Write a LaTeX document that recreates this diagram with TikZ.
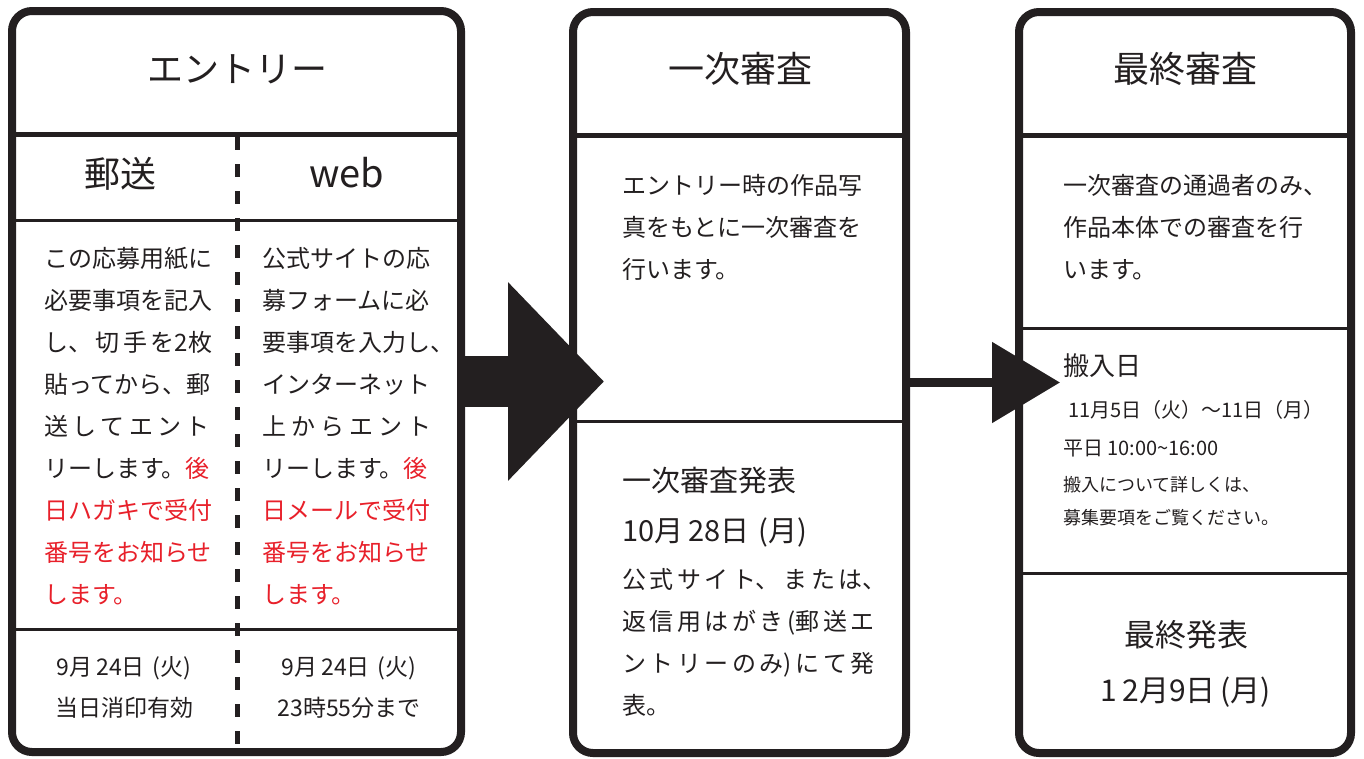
\documentclass[tikz,border=0pt]{standalone}
\usepackage{fontspec}
\setmainfont{Noto Sans CJK JP}
\usetikzlibrary{arrows.meta,calc}
\definecolor{ink}{HTML}{231F20}
\definecolor{jred}{HTML}{E8202A}
\newcommand{\fsz}[1]{\fontsize{#1}{#1}\selectfont}
\newcommand{\rd}[1]{\textcolor{jred}{#1}}
\newcommand{\jst}[2]{\makebox[#1][s]{#2}}
\begin{document}
\begin{tikzpicture}[x=1pt,y=-1pt,
  every node/.style={inner sep=0pt,outer sep=0pt,text=ink},
  panel/.style={draw=ink,line width=8pt,rounded corners=20pt,fill=white},
  thickrule/.style={draw=ink,line width=5pt},
  thinrule/.style={draw=ink,line width=3pt},
  dashrule/.style={draw=ink,line width=5pt,dash pattern=on 13pt off 14pt},
  body/.style={anchor=base west,font=\fsz{24}},
  head/.style={anchor=base,font=\fsz{36}},
  cell/.style={anchor=base,font=\fsz{23}},
  bigarrow/.style={draw=ink,line width=51pt,-{Triangle[length=96pt,width=193pt]}},
  smallarrow/.style={draw=ink,line width=9pt,-{Triangle[length=68pt,width=79pt]}}]
\useasboundingbox (0,0) rectangle (1364,758);
\fill[white] (0,0) rectangle (1364,758);

% panels
\node[panel,minimum width=449pt,minimum height=741pt] (b1) at (236.5,381.5) {};
\node[panel,minimum width=333pt,minimum height=741pt] (b2) at (739.5,382.5) {};
\node[panel,minimum width=332pt,minimum height=741pt] (b3) at (1185,382.5) {};

% rules panel 1
\draw[thickrule] (12,134) -- (461,134);
\draw[thinrule] (12,220) -- (461,220);
\draw[thinrule] (12,629) -- (461,629);
\draw[dashrule] (237,137) -- (237,752);
% rules panel 2
\draw[thickrule] (573,135) -- (906,135);
\draw[thinrule] (573,421) -- (906,421);
% rules panel 3
\draw[thickrule] (1019,135) -- (1351,135);
\draw[thinrule] (1019,328) -- (1351,328);
\draw[thinrule] (1019,573) -- (1351,573);

% headers
\node[head] (h1) at (237,82) {エントリー};
\node[head] (h2) at (740,82) {一次審査};
\node[head] (h3) at (1185,82) {最終審査};
\node[head] (h1a) at (120,187) {郵送};
\node[head,font=\fsz{38}] (h1b) at (347,187) {web};

% panel 1 left column
\foreach \t [count=\i from 0] in {この応募用紙に, 必要事項を記入, {\jst{168pt}{し、 切 手 を2枚}}, 貼ってから、郵, {\jst{166pt}{送 し て エ ン ト}}, {リーします。\rd{後}}, {\rd{日ハガキで受付}}, {\rd{番号をお知らせ}}, {\rd{します。}}}
  \node[body] (pl\i) at (44,267+42*\i) {\t};
% panel 1 right column
\foreach \t [count=\i from 0] in {公式サイトの応, 募フォームに必, 要事項を入力し、, インターネット, {\jst{170pt}{上 か ら エ ン ト}}, {リーします。\rd{後}}, {\rd{日メールで受付}}, {\rd{番号をお知らせ}}, {\rd{します。}}}
  \node[body] (pr\i) at (262,267+42*\i) {\t};

% panel 1 bottom cells
\node[cell] (d1) at (124,675) {9月\,24日\,\,(火)};
\node[cell] (d2) at (124,716) {当日消印有効};
\node[cell] (d3) at (349,675) {9月\,24日\,\,(火)};
\node[cell] (d4) at (349,716) {23時55分まで};

% panel 2
\foreach \t [count=\i from 0] in {エントリー時の作品写, 真をもとに一次審査を, 行います。}
  \node[body] (q\i) at (622,194+42*\i) {\t};
\node[body,font=\fsz{29}] (q3) at (622,491) {一次審査発表};
\node[body,font=\fsz{29}] (q4) at (622,541) {10月\,28日\,\,(月)};
\foreach \t [count=\i from 0] in {{\jst{252pt}{公 式 サ イ ト、 ま た は、}}, {\jst{250pt}{返 信 用 は が き (郵 送 エ}}, {\jst{244pt}{ン ト リ ー の み) に て 発}}, 表。}
  \node[body] (r\i) at (622,588+42*\i) {\t};

% panel 3
\foreach \t [count=\i from 0] in {一次審査の通過者のみ、, 作品本体での審査を行, います。}
  \node[body] (s\i) at (1063,194+42*\i) {\t};
\node[body,font=\fsz{26}] (s3) at (1063,375) {搬入日};
\node[body,font=\fsz{20}] (s4) at (1068,417) {11月5日（火）～11日（月）};
\node[body,font=\fsz{20}] (s5) at (1063,455) {平日 10:00\char"007E 16:00};
\node[body,font=\fsz{18}] (s6) at (1063,491) {搬入について詳しくは、};
\node[body,font=\fsz{18}] (s7) at (1063,524) {募集要項をご覧ください。};
\node[anchor=base,font=\fsz{31}] (s8) at (1186,646) {最終発表};
\node[anchor=base,font=\fsz{30}] (s9) at (1186,701) {1\,2月9日\,(月)};

% arrows
\coordinate (t1) at ($(b2.west)+(31,0)$);
\coordinate (t2) at ($(b3.west)+(41,0)$);
\draw[bigarrow] (b1.east) -- (b1.east -| t1);
\draw[smallarrow] (b2.east) -- (t2);
\end{tikzpicture}
\end{document}
